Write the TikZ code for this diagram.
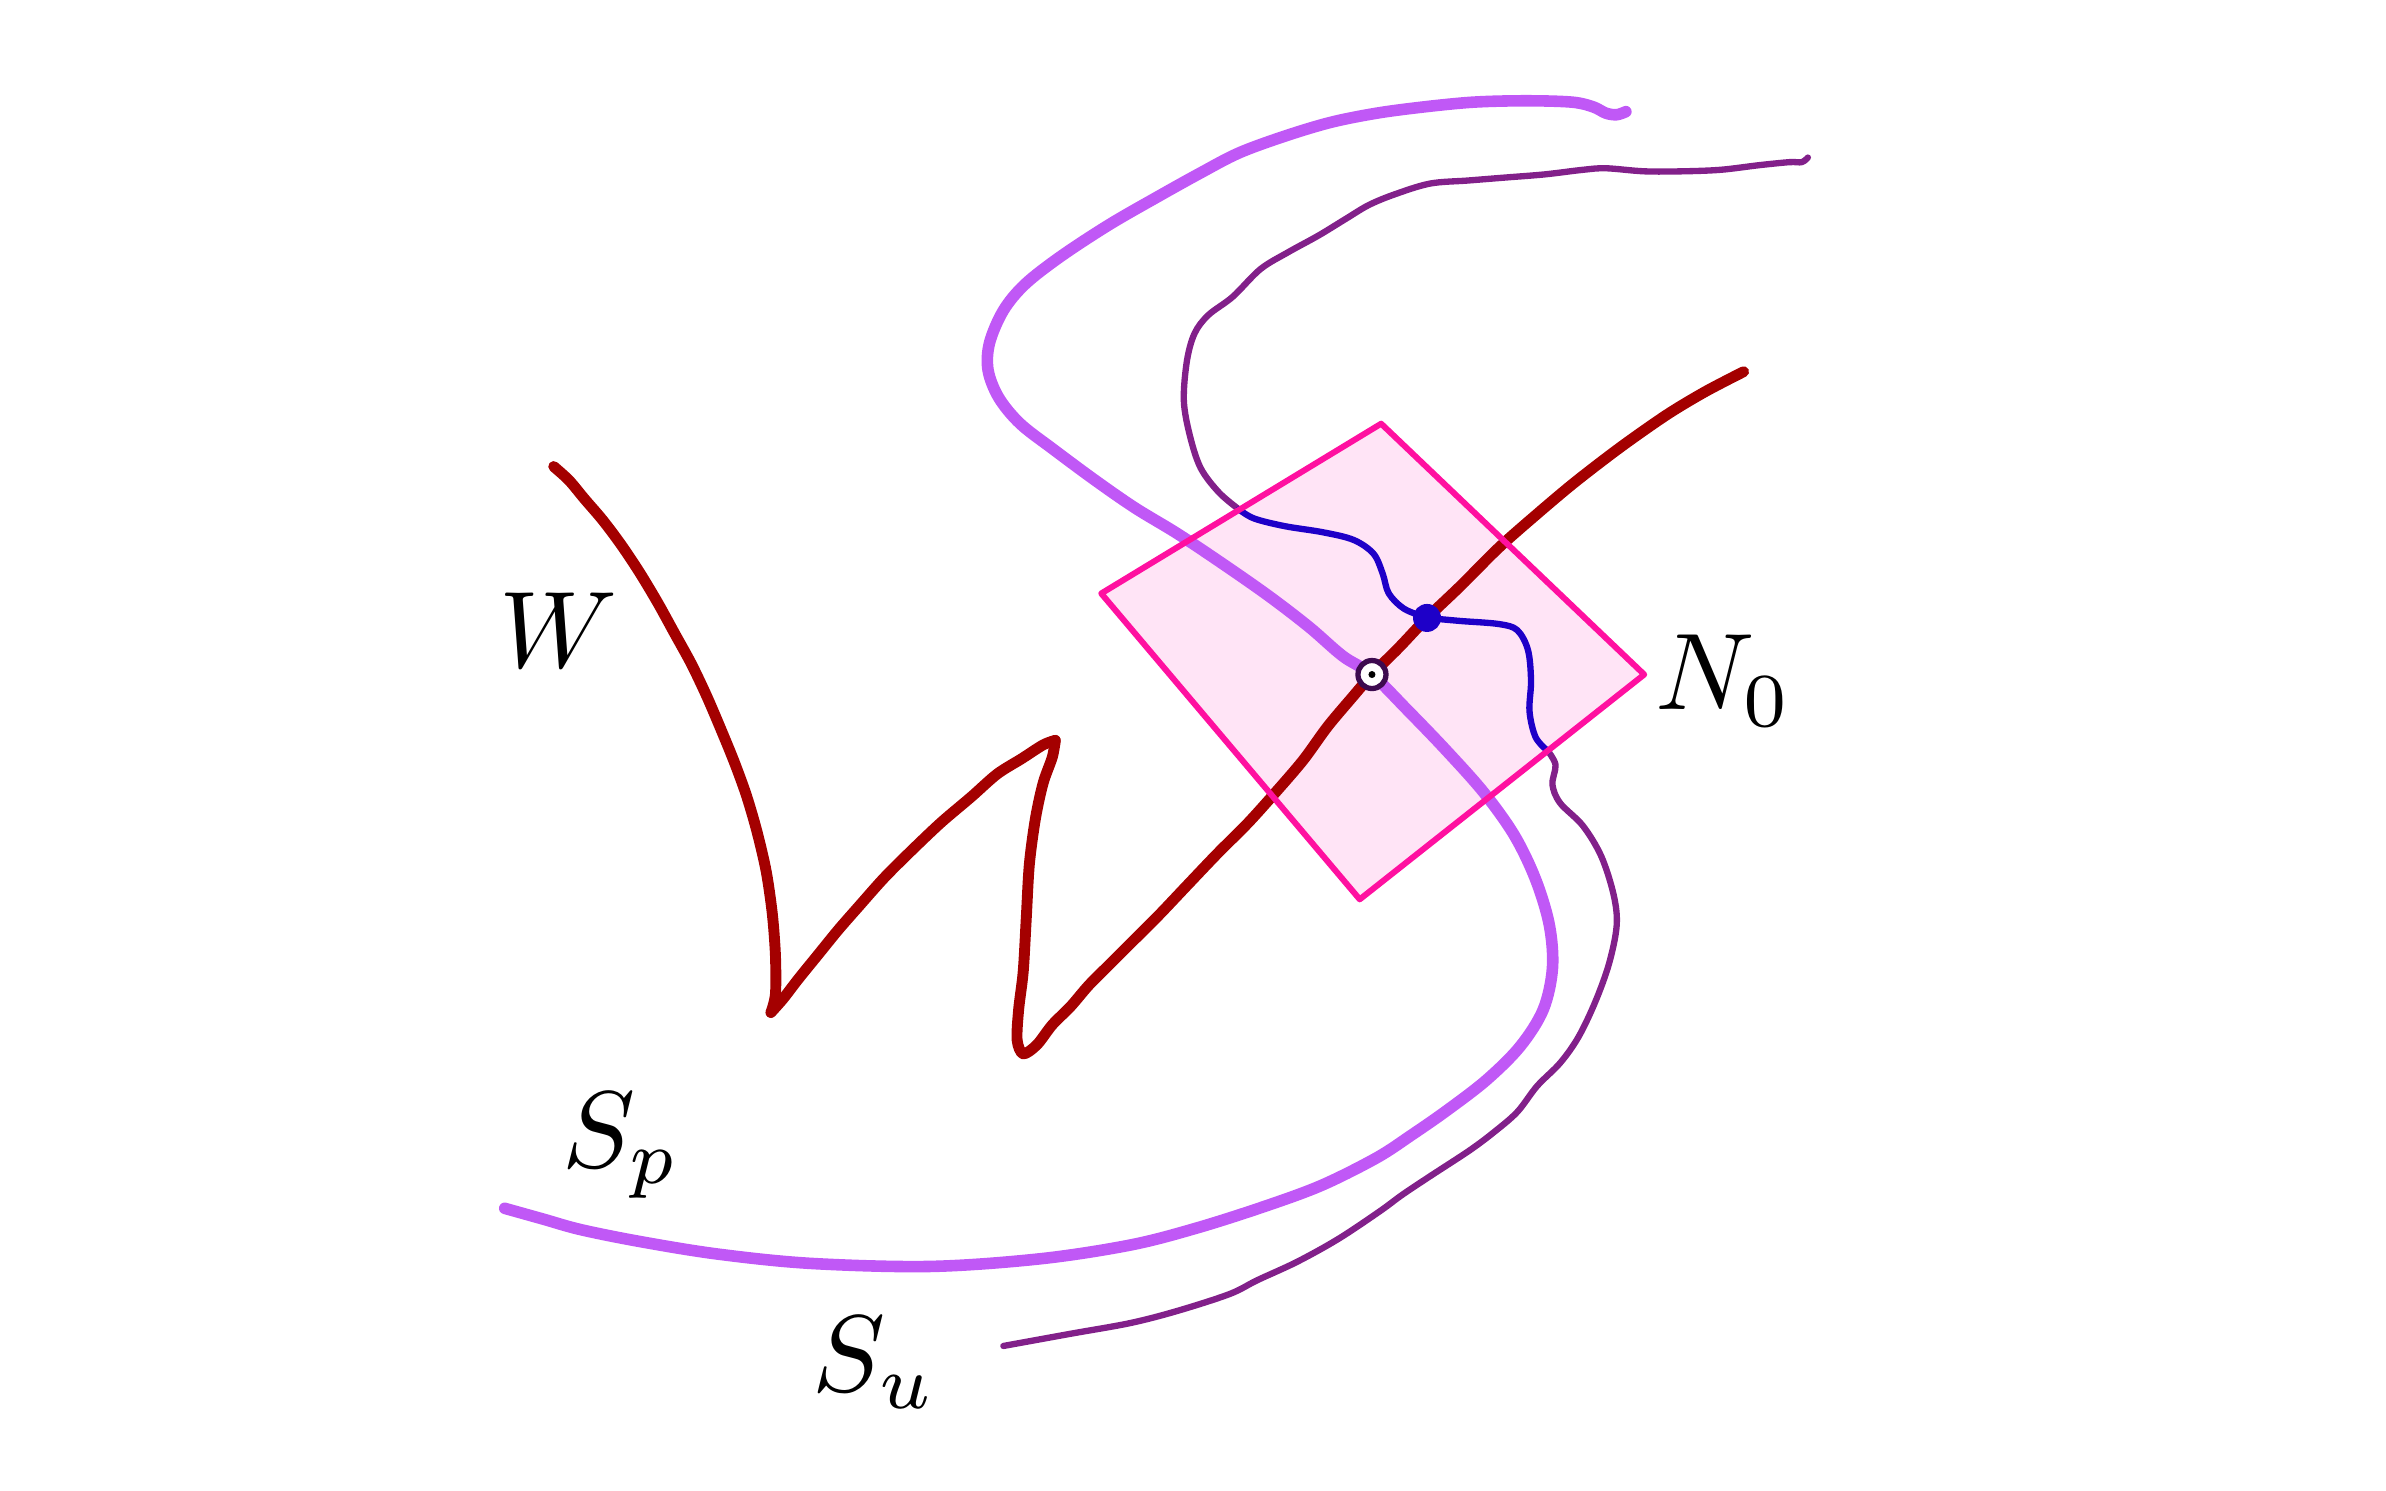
\documentclass[tikz,border=0pt]{standalone}
\usepackage{graphicx}
\definecolor{spcol}{HTML}{C058F6}
\definecolor{sucol}{HTML}{82208A}
\definecolor{wcol}{HTML}{A40000}
\definecolor{bcol}{HTML}{1E00C8}
\definecolor{pkcol}{HTML}{FF10A0}
\definecolor{pkfill}{HTML}{FFE4F6}
\definecolor{ringcol}{HTML}{3D0A4F}
\tikzset{
  spline/.style={draw=spcol, line width=3.3pt},
  suline/.style={draw=sucol, line width=1.8pt},
  bline/.style={draw=bcol, line width=1.8pt},
  wline/.style={draw=wcol, line width=3.1pt},
  quad/.style={draw=pkcol, line width=1.7pt},
  lab/.style={inner sep=0pt},
}
\newcommand{\biglab}[1]{\scalebox{3.1}{$#1$}}
\begin{document}
\begin{tikzpicture}[x={(0.0152949cm,0)},y={(0,-0.0152949cm)}, line cap=round, line join=round]
\useasboundingbox (0,0) rectangle (1560,974.8);
% neighbourhood N_0
\coordinate (qt) at (903,277);
\coordinate (ql) at (720,388);
\coordinate (qb) at (889,588);
\coordinate (qr) at (1075,441);
\fill[pkfill] (qt) -- (qr) -- (qb) -- (ql) -- cycle;
% S_p
\draw[spline] plot[smooth, tension=0.55] coordinates {(1063,73) (1057,75) (1050,74) (1042,70) (1030,67) (1010,66) (985,66) (960,67) (930,70) (900,74) (870,80) (840,89) (810,100) (785,113) (758,128) (725,147) (693,168) (670,186) (656,203) (647,224) (646,242) (653,260) (667,277) (689,294) (716,314) (742,332) (770,349) (800,369) (830,390) (856,410) (878,429) (897,441) (920,464) (945,490) (970,518) (990,546) (1004,575) (1013,605) (1015,633) (1009,660) (994,684) (972,706) (946,726) (923,742) (900,757) (864,775) (826,789) (782,803) (739,814) (680,823) (608,828) (530,826) (470,820) (420,812) (380,804) (355,797) (330,790)};
% S_u upper part
\draw[suline] plot[smooth, tension=0.55] coordinates {(1182,103) (1178,106) (1170,106) (1150,108) (1125,111) (1100,112) (1075,112) (1050,110) (1035,111) (1010,114) (985,116) (960,118) (935,120) (912,127) (895,134) (880,143) (862,154) (842,165) (824,176) (806,194) (790,206) (781,218) (776,236) (774,262) (778,285) (785,306) (797,322) (810,333)};
% S_u lower part
\draw[suline] plot[smooth, tension=0.55] coordinates {(1012,491) (1017,500) (1015,513) (1020,525) (1035,540) (1047,560) (1055,585) (1057,605) (1052,630) (1043,655) (1032,678) (1020,695) (1005,710) (992,727) (977,740) (961,752) (935,769) (917,781) (902,792) (875,810) (848,825) (822,837) (804,846) (770,857) (739,865) (700,872) (656,880)};
% blue part inside N_0
\draw[bline] plot[smooth, tension=0.55] coordinates {(810,333) (820,339) (840,344) (865,348) (885,353) (898,362) (904,375) (908,388) (918,398) (933,404)};
\draw[bline] plot[smooth, tension=0.55] coordinates {(933,404) (955,406) (980,408) (992,412) (999,425) (1001,445) (1000,465) (1004,482) (1012,491)};
% W
\draw[wline] plot[smooth, tension=0.5] coordinates {(362,305) (372,314) (382,326) (394,340) (406,356) (418,374) (430,394) (441,414) (452,434) (462,455) (471,476) (480,498) (488,520) (495,544) (501,570) (505,598) (507,625) (507,650) (504,662)};
\draw[wline] plot[smooth, tension=0.5] coordinates {(504,662) (512,653) (522,640) (535,624) (548,608) (562,592) (578,574) (595,557) (615,538) (635,521) (652,506) (668,496) (682,487) (690,484)};
\draw[wline] plot[smooth, tension=0.5] coordinates {(690,484) (688,495) (682,512) (677,535) (673,565) (671,600) (669,635) (666,660) (665,680) (669,689) (678,683) (688,670) (700,658) (712,644) (726,630) (742,614) (758,598) (776,579) (796,558) (816,538) (834,518) (852,497) (868,475) (884,456) (897,441) (915,423) (933,404) (955,383) (980,358) (1005,336) (1030,315) (1060,292) (1090,271) (1115,256) (1140,243)};
% outline of N_0
\draw[quad] (qt) -- (qr) -- (qb) -- (ql) -- cycle;
% markers
\node[circle, fill=bcol, minimum size=0.28cm, inner sep=0pt] (bdot) at (933,404) {};
\node[circle, draw=ringcol, fill=white, line width=1.5pt, minimum size=0.28cm, inner sep=0pt] (ring) at (897,441) {};
\node[circle, fill=black, minimum size=0.07cm, inner sep=0pt] (rdot) at (897,441) {};
% labels
\node[lab] (lw) at (365,412) {\biglab{W}};
\node[lab] (ln) at (1127,445) {\biglab{N_0}};
\node[lab] (lsp) at (406,749) {\biglab{S_p}};
\node[lab] (lsu) at (572,891) {\biglab{S_u}};
\end{tikzpicture}
\end{document}
